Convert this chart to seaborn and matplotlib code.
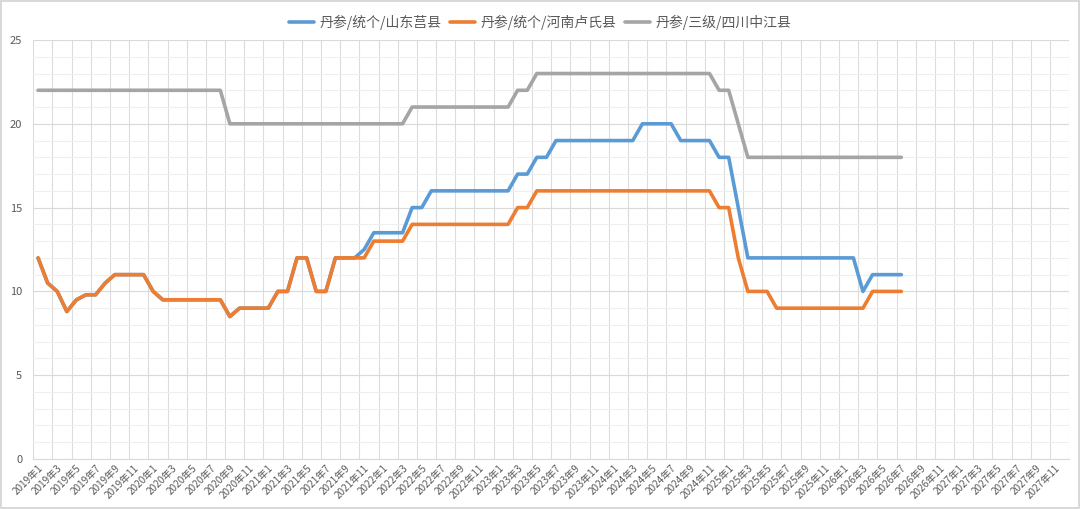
import seaborn as sns
import matplotlib.pyplot as plt
import pandas as pd
from matplotlib.ticker import MultipleLocator, FixedLocator

# 月份类别 2019年1 ~ 2027年12
months = [f"{y}年{m}" for y in range(2019, 2028) for m in range(1, 13)]

# 各产地价格（2019年1 ~ 2026年7）
juxian = [12, 10.5, 10, 8.8, 9.5, 9.8, 9.8, 10.5, 11, 11, 11, 11,
          10, 9.5, 9.5, 9.5, 9.5, 9.5, 9.5, 9.5, 8.5, 9, 9, 9,
          9, 10, 10, 12, 12, 10, 10, 12, 12, 12, 12.5, 13.5,
          13.5, 13.5, 13.5, 15, 15, 16, 16, 16, 16, 16, 16, 16,
          16, 16, 17, 17, 18, 18, 19, 19, 19, 19, 19, 19,
          19, 19, 19, 20, 20, 20, 20, 19, 19, 19, 19, 18,
          18, 15, 12, 12, 12, 12, 12, 12, 12, 12, 12, 12,
          12, 12, 10, 11, 11, 11, 11]
lushi = [12, 10.5, 10, 8.8, 9.5, 9.8, 9.8, 10.5, 11, 11, 11, 11,
         10, 9.5, 9.5, 9.5, 9.5, 9.5, 9.5, 9.5, 8.5, 9, 9, 9,
         9, 10, 10, 12, 12, 10, 10, 12, 12, 12, 12, 13,
         13, 13, 13, 14, 14, 14, 14, 14, 14, 14, 14, 14,
         14, 14, 15, 15, 16, 16, 16, 16, 16, 16, 16, 16,
         16, 16, 16, 16, 16, 16, 16, 16, 16, 16, 16, 15,
         15, 12, 10, 10, 10, 9, 9, 9, 9, 9, 9, 9,
         9, 9, 9, 10, 10, 10, 10]
zhongjiang = [22, 22, 22, 22, 22, 22, 22, 22, 22, 22, 22, 22,
              22, 22, 22, 22, 22, 22, 22, 22, 20, 20, 20, 20,
              20, 20, 20, 20, 20, 20, 20, 20, 20, 20, 20, 20,
              20, 20, 20, 21, 21, 21, 21, 21, 21, 21, 21, 21,
              21, 21, 22, 22, 23, 23, 23, 23, 23, 23, 23, 23,
              23, 23, 23, 23, 23, 23, 23, 23, 23, 23, 23, 22,
              22, 20, 18, 18, 18, 18, 18, 18, 18, 18, 18, 18,
              18, 18, 18, 18, 18, 18, 18]

names = ["丹参/统个/山东莒县", "丹参/统个/河南卢氏县", "丹参/三级/四川中江县"]
colors = ["#5B9BD5", "#ED7D31", "#A5A5A5"]

rows = []
for name, vals in zip(names, [juxian, lushi, zhongjiang]):
    for i, v in enumerate(vals):
        rows.append({"idx": i, "price": v, "series": name})
df = pd.DataFrame(rows)

sns.set_style("white")
plt.rcParams['font.family'] = ['Noto Sans CJK SC', 'DejaVu Sans']

fig = plt.figure(figsize=(10.8, 5.09), dpi=100)
fig.patch.set_edgecolor("#D9D9D9")
fig.patch.set_linewidth(1.5)
ax = fig.add_axes([0.0308, 0.0982, 0.9592, 0.8232])

sns.lineplot(data=df, x="idx", y="price", hue="series", hue_order=names,
             palette=colors, linewidth=2.6, ax=ax, legend=False)

ax.set_xlim(-0.5, len(months) - 0.5)
ax.set_ylim(0, 25)

# 纵轴
ax.yaxis.set_major_locator(MultipleLocator(5))
ax.yaxis.set_minor_locator(MultipleLocator(1))
ax.grid(axis="y", which="major", color="#D9D9D9", linewidth=0.8)
ax.grid(axis="y", which="minor", color="#EFEFEF", linewidth=0.8)

# 横轴：每两个月一个标签，网格在类别边界
ax.xaxis.set_major_locator(FixedLocator(range(0, len(months), 2)))
ax.set_xticklabels(months[::2], rotation=45, ha="right",
                   rotation_mode="anchor", fontsize=7.2, color="#595959")
ax.xaxis.set_minor_locator(FixedLocator([i - 0.5 for i in range(0, len(months) + 1, 2)]))
ax.grid(axis="x", which="minor", color="#DCDCDC", linewidth=0.8)
ax.set_axisbelow(True)

ax.tick_params(axis="y", labelsize=8, colors="#595959", length=0, pad=8)
ax.tick_params(axis="x", which="both", length=0, pad=3)
ax.set_xlabel("")
ax.set_ylabel("")
for side in ["top", "right", "left"]:
    ax.spines[side].set_visible(False)
ax.spines["bottom"].set_color("#D9D9D9")

handles = [plt.Line2D([], [], color=c, linewidth=2.6) for c in colors]
fig.legend(handles, names, loc="upper center", bbox_to_anchor=(0.5, 0.995),
           ncol=3, frameon=False, fontsize=10, labelcolor="#595959",
           handlelength=1.8, handletextpad=0.4, columnspacing=0.6)

fig.savefig("out.png", dpi=100)
